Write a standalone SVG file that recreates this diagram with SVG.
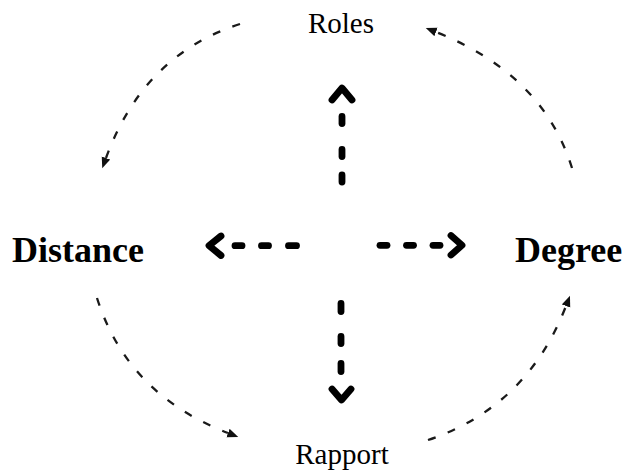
<svg xmlns="http://www.w3.org/2000/svg" width="624" height="473" viewBox="0 0 624 473">
  <style>
    .lbl { font-family: "Liberation Serif", "Times New Roman", serif; fill: #000; }
    .small { font-size: 29px; }
    .big { font-size: 36px; font-weight: bold; }
    .arc { fill: none; stroke: #1a1a1a; stroke-width: 2.3; stroke-dasharray: 8 13; marker-end: url(#tri); }
    .bold { fill: none; stroke: #000; stroke-width: 6.8; stroke-linecap: round; stroke-linejoin: round; }
  </style>
  <defs>
    <marker id="tri" markerUnits="userSpaceOnUse" markerWidth="12" markerHeight="10" refX="0" refY="4.5" orient="auto">
      <path d="M0,0 L11,4.5 L0,9 z" fill="#111"/>
    </marker>
  </defs>
  <rect width="624" height="473" fill="#fff"/>

  <g id="roles"><text class="lbl small" x="341" y="33" text-anchor="middle">Roles</text></g>
  <g id="rapport"><text class="lbl small" x="342" y="464" text-anchor="middle">Rapport</text></g>
  <g id="distance"><text class="lbl big" x="12" y="262">Distance</text></g>
  <g id="degree"><text class="lbl big" x="515" y="262">Degree</text></g>

  <g id="connectors">
    <!-- outer curved dashed arrows -->
    <path class="arc" d="M240,24 Q143.5,55 106,158"/>
    <path class="arc" d="M572,168 Q543,74.5 436,32"/>
    <path class="arc" d="M97,298 Q127.5,394.5 228,433"/>
    <path class="arc" d="M428,440 Q527,407 566,306"/>

    <!-- up -->
    <g class="bold">
      <path d="M332,100 L342,88 L352,100"/>
      <line x1="342" y1="116.5" x2="342" y2="123.5"/>
      <line x1="342" y1="149.5" x2="342" y2="156.5"/>
      <line x1="342" y1="175" x2="342" y2="182"/>
    </g>
    <!-- left -->
    <g class="bold">
      <path d="M221,236 L209,245.7 L221,255.5"/>
      <line x1="235" y1="245.7" x2="242" y2="245.7"/>
      <line x1="261.5" y1="245.7" x2="268.5" y2="245.7"/>
      <line x1="288.5" y1="245.7" x2="296.5" y2="245.7"/>
    </g>
    <!-- right -->
    <g class="bold">
      <line x1="380" y1="245.3" x2="387" y2="245.3"/>
      <line x1="406.5" y1="245.3" x2="413.5" y2="245.3"/>
      <line x1="433" y1="245.3" x2="440" y2="245.3"/>
      <path d="M451,235.5 L462,245.3 L451,255"/>
    </g>
    <!-- down -->
    <g class="bold">
      <line x1="341" y1="303.5" x2="341" y2="311.5"/>
      <line x1="341" y1="336.5" x2="341" y2="343.5"/>
      <line x1="341" y1="363.5" x2="341" y2="371.5"/>
      <path d="M332,389 L341.5,400 L351,389"/>
    </g>
  </g>
</svg>
